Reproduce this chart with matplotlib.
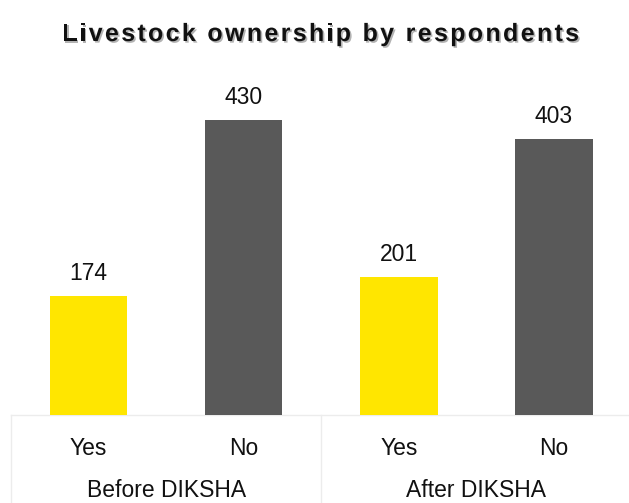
import matplotlib
matplotlib.use("Agg")
import matplotlib.pyplot as plt
import matplotlib.patheffects as pe
from matplotlib.transforms import blended_transform_factory

plt.rcParams['font.family'] = ['Liberation Sans', 'DejaVu Sans']

title = 'Livestock ownership by respondents'
groups = ['Before DIKSHA', 'After DIKSHA']
answers = ['Yes', 'No', 'Yes', 'No']
counts = [174, 430, 201, 403]
colors = ['#FFE600', '#595959', '#FFE600', '#595959']

W, H = 629, 503
fig = plt.figure(figsize=(W / 100, H / 100), dpi=100)
ax = fig.add_axes([11 / W, 88 / H, 618 / W, 415 / H])

x = list(range(len(counts)))
bars = ax.bar(x, counts, width=0.5, color=colors, zorder=3)
for b in bars:
    b.set_path_effects([pe.SimplePatchShadow(offset=(0, 0), shadow_rgbFace='#000000', alpha=0.12),
                        pe.Normal()])

for xi, v in zip(x, counts):
    ax.annotate(str(v), (xi, v), xytext=(0, 11.5), textcoords='offset points',
                ha='center', va='baseline', fontsize=16.5, color='#111111')

ax.set_xlim(-0.5, 3.5 - 2.5 / 155)
ax.set_ylim(0, 415 / (295 / 430))
for s in ax.spines.values():
    s.set_visible(False)
ax.set_yticks([])
ax.set_xticks([])

# category table under the bars
tr = blended_transform_factory(ax.transData, ax.transAxes)
ax.plot([-0.5, 3.5], [0, 0], transform=tr, color='#ececec', lw=1, clip_on=False)
for xs in [-0.5, 1.5, 3.5]:
    ax.plot([xs, xs], [0, -0.25], transform=tr, color='#ececec', lw=1, clip_on=False)
for xi, lab in zip(x, answers):
    ax.text(xi, -40 / 415, lab, transform=tr, ha='center', va='baseline', fontsize=16.5, color='#111111')
for gi, g in enumerate(groups):
    ax.text(gi * 2 + 0.5, -82 / 415, g, transform=tr, ha='center', va='baseline', fontsize=16.5, color='#111111')

# title drawn letter by letter to get wider tracking
renderer = fig.canvas.get_renderer()
tkw = dict(fontsize=18, fontweight='bold', color='#111111')


def text_w(s):
    t = fig.text(0, 0, s, **tkw)
    w = t.get_window_extent(renderer).width
    t.remove()
    return w


base_w = text_w(title)
target_w = 517
gap = max(0, (target_w - base_w) / (len(title) - 1))
total_w = base_w + gap * (len(title) - 1)
x0 = (W - total_w) / 2 + 6
for i, ch in enumerate(title):
    if ch == ' ':
        continue
    left = text_w(title[:i + 1]) - text_w(ch) + i * gap
    fig.text((x0 + left) / W, 1 - 41 / H, ch, ha='left', va='baseline', **tkw,
             path_effects=[pe.withSimplePatchShadow(offset=(1.2, -1.2), alpha=0.3)])

fig.savefig('out.png', dpi=100)
